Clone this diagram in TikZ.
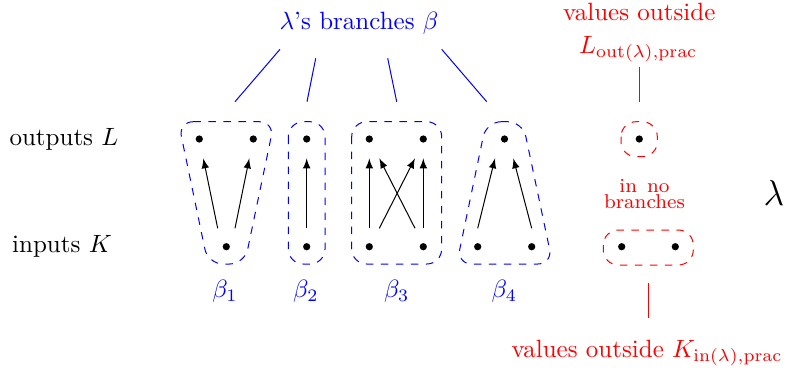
\documentclass[tikz,border=0pt]{standalone}
\usetikzlibrary{calc}
\begin{document}
\begin{tikzpicture}[x=0.4pt,y=-0.4pt,
  dot/.style={circle,fill=black,inner sep=0pt,minimum size=2.9pt},
  arr/.style={-latex,thin},
  bbox/.style={draw=blue,dashed,rounded corners=6pt},
  rbox/.style={draw=red,dashed,rounded corners=6pt},
  blab/.style={text=blue},
  rlab/.style={text=red},
  bline/.style={draw=blue},
  rline/.style={draw=red}]
\useasboundingbox (0,0) rectangle (787,376);

% dots
\node[dot] (t11) at (199.3,139) {};
\node[dot] (t12) at (253.3,139) {};
\node[dot] (b11) at (226.3,246.7) {};
\node[dot] (t21) at (306.7,139) {};
\node[dot] (b21) at (306.7,246.7) {};
\node[dot] (t31) at (369.3,139) {};
\node[dot] (t32) at (423.3,139) {};
\node[dot] (b31) at (369.3,246.7) {};
\node[dot] (b32) at (423.3,246.7) {};
\node[dot] (t41) at (504.5,139) {};
\node[dot] (b41) at (477.7,246.7) {};
\node[dot] (b42) at (531.7,246.7) {};
\node[dot] (rt) at (639.3,139) {};
\node[dot] (rb1) at (621.7,246.7) {};
\node[dot] (rb2) at (675.3,246.7) {};

% arrows
\draw[arr] ($(b11)+(-8.6,-18.4)$) -- ($(t11)+(4,19.3)$);
\draw[arr] ($(b11)+(8.7,-18.4)$) -- ($(t12)+(-4,19.3)$);
\draw[arr] ($(b21)+(0,-18.4)$) -- ($(t21)+(0,19.3)$);
\draw[arr] ($(b31)+(0,-18.4)$) -- ($(t31)+(0,19.3)$);
\draw[arr] ($(b32)+(0,-18.4)$) -- ($(t32)+(0,19.3)$);
\draw[arr] ($(b31)+(10,-18.4)$) -- ($(t32)+(-8.3,19.3)$);
\draw[arr] ($(b32)+(-8.3,-18.4)$) -- ($(t31)+(10,19.3)$);
\draw[arr] ($(b41)+(0,-18.4)$) -- ($(t41)+(-9.5,19.3)$);
\draw[arr] ($(b42)+(0,-18.4)$) -- ($(t41)+(8.8,19.3)$);

% boxes
\draw[bbox] (178.3,121.7) -- (274.3,121.7) -- (244.6,264) -- (208,264) -- cycle;
\draw[bbox] (288.3,121.7) rectangle (325,264);
\draw[bbox] (351.7,121.7) rectangle (441.7,264);
\draw[bbox] (486.3,121.7) -- (522.7,121.7) -- (552.7,264) -- (456.7,264) -- cycle;
\draw[rbox] (621,121.7) rectangle (657.3,156.7);
\draw[rbox] (603.3,230) rectangle (693.3,265);

% labels
\node (outL) at (64,139) {outputs $L$};
\node (inK) at (62,246.7) {inputs $K$};
\node[blab] (l1) at (225,291.5) {$\beta_1$};
\node[blab] (l2) at (305.8,291.5) {$\beta_2$};
\node[blab] (l3) at (396.7,291.5) {$\beta_3$};
\node[blab] (l4) at (504.3,291.5) {$\beta_4$};
\node[blab] (br) at (359,23.3) {$\lambda$'s branches $\beta$};
\node[rlab,anchor=base] (vo1) at (639.2,20.7) {values outside};
\node[rlab,anchor=base] (Lo) at (638.3,53.3) {$L_{\mathrm{out}(\lambda),\mathrm{prac}}$};
\node[rlab,anchor=base] (vK) at (647,357.3) {values outside $K_{\mathrm{in}(\lambda),\mathrm{prac}}$};
\node[rlab,font=\fontsize{8}{6.7}\selectfont,align=center] (nob) at (644.5,194) {in\hspace{4pt}no\\branches};
\node[font=\Large,anchor=base] (lam) at (774,205) {$\lambda$};

% connector end points
\coordinate (c1a) at (280,49.3);   \coordinate (c1b) at (235,101.7);
\coordinate (c2a) at (315.7,58.3); \coordinate (c2b) at (307,101.7);
\coordinate (c3a) at (387.7,58.3); \coordinate (c3b) at (396.7,101.7);
\coordinate (c4a) at (441.7,49.3); \coordinate (c4b) at (486.7,101.7);
\coordinate (r1a) at (639,66.7);   \coordinate (r1b) at (639,101.7);
\coordinate (r2a) at (648.3,283.3);\coordinate (r2b) at (648.3,318.3);

\draw[bline] (c1a) -- (c1b);
\draw[bline] (c2a) -- (c2b);
\draw[bline] (c3a) -- (c3b);
\draw[bline] (c4a) -- (c4b);
\draw[rline] (r1a) -- (r1b);
\draw[rline] (r2a) -- (r2b);
\end{tikzpicture}
\end{document}
